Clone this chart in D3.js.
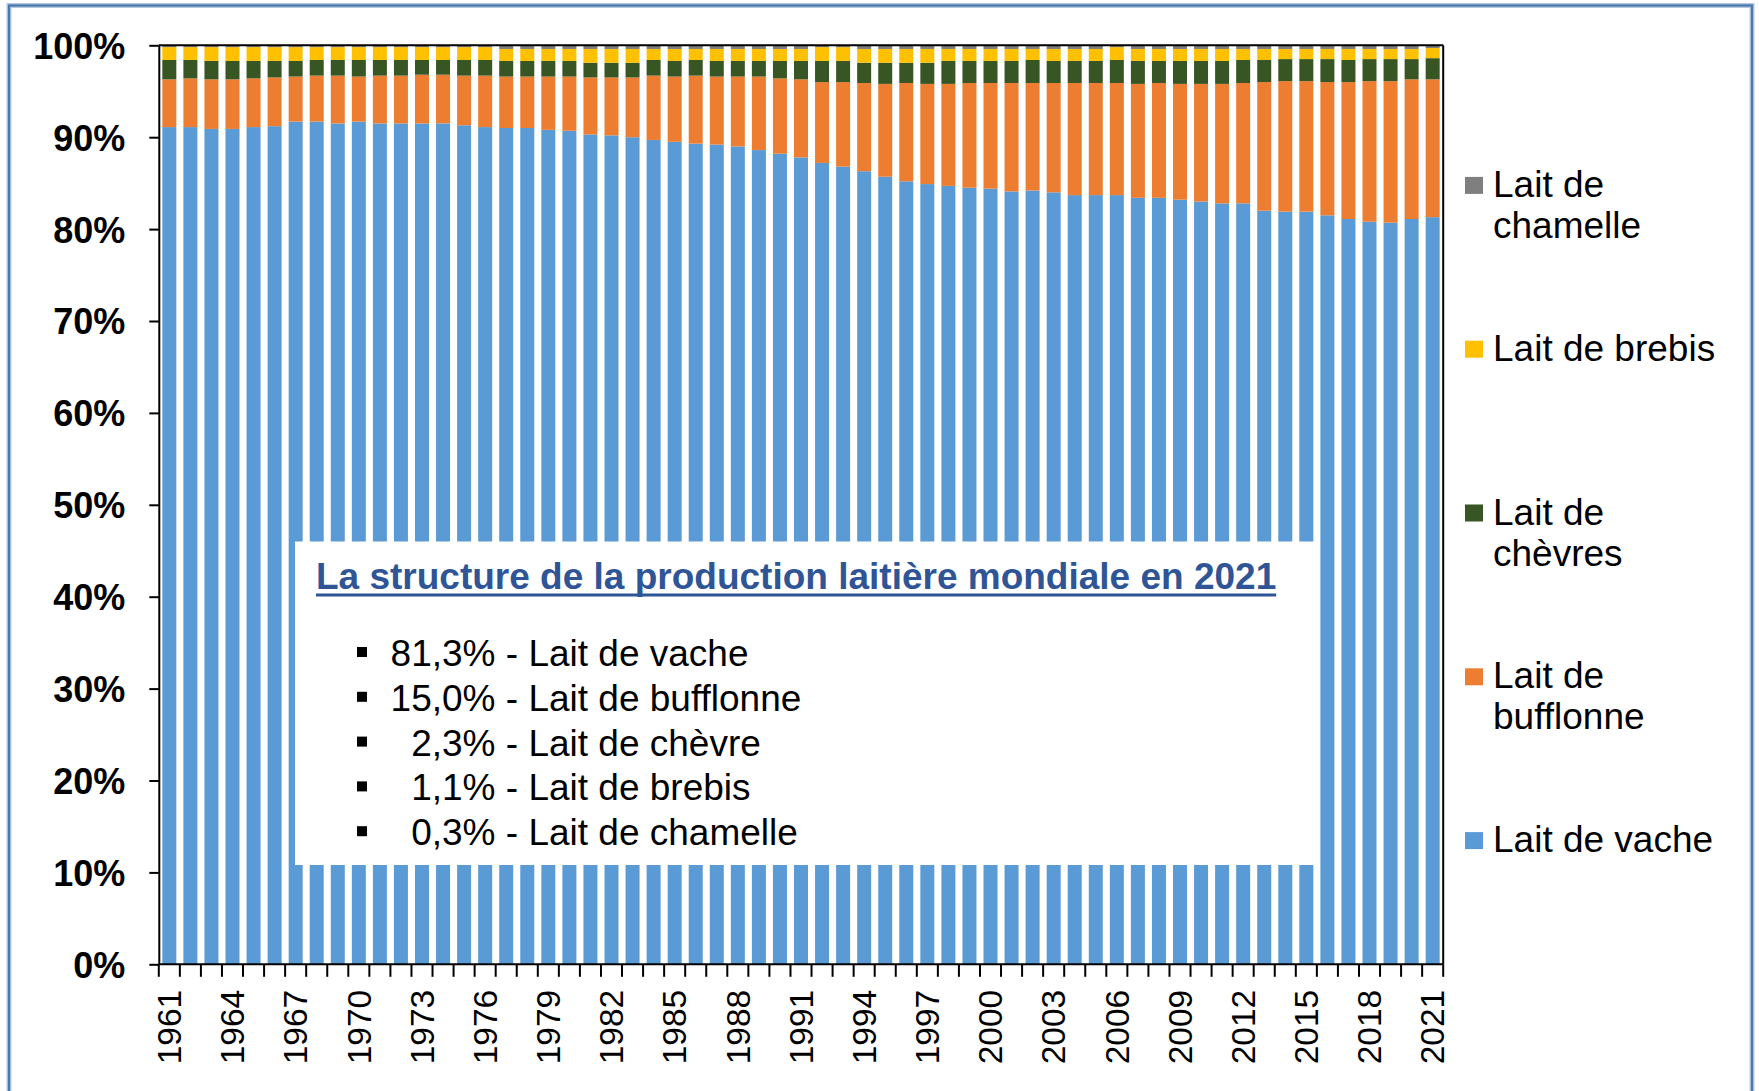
<!DOCTYPE html>
<html>
<head>
<meta charset="utf-8">
<script src="https://cdn.jsdelivr.net/npm/d3@7"></script>
<style>
  body { margin: 0; background: #fff; }
  text { font-family: "Liberation Sans", Arial, sans-serif; }
</style>
</head>
<body>
<div id="chart"></div>
<script>
// Data (percent of world milk production)
var years = d3.range(1961, 2022);

var vache = [91.1, 91.1, 90.9, 90.9, 91.1, 91.2, 91.7, 91.7, 91.5, 91.7,
  91.5, 91.5, 91.5, 91.5, 91.3, 91.1, 91.0, 91.0, 90.8, 90.7,
  90.3, 90.2, 90.0, 89.7, 89.5, 89.3, 89.2, 89.0, 88.6, 88.2,
  87.8, 87.2, 86.8, 86.3, 85.7, 85.2, 84.9, 84.7, 84.5, 84.4,
  84.1, 84.2, 84.0, 83.7, 83.7, 83.7, 83.4, 83.4, 83.2, 83.0,
  82.8, 82.8, 82.0, 81.9, 81.9, 81.5, 81.1, 80.8, 80.7, 81.1, 81.3];
var bufflonne = [5.2, 5.3, 5.4, 5.4, 5.3, 5.3, 4.9, 5.0, 5.2, 4.9,
  5.2, 5.2, 5.3, 5.3, 5.4, 5.6, 5.6, 5.6, 5.8, 5.9,
  6.2, 6.3, 6.5, 7.0, 7.1, 7.4, 7.4, 7.6, 8.0, 8.2,
  8.5, 8.8, 9.2, 9.6, 10.1, 10.7, 10.9, 11.1, 11.4, 11.5,
  11.8, 11.7, 11.9, 12.2, 12.2, 12.2, 12.4, 12.5, 12.6, 12.8,
  13.0, 13.1, 14.0, 14.2, 14.2, 14.5, 14.9, 15.3, 15.4, 15.2, 15.0];
var chevre = [2.1, 2.0, 2.0, 2.0, 1.9, 1.8, 1.7, 1.7, 1.7, 1.8,
  1.7, 1.7, 1.6, 1.6, 1.7, 1.7, 1.7, 1.7, 1.7, 1.7,
  1.6, 1.6, 1.6, 1.7, 1.7, 1.7, 1.7, 1.7, 1.7, 1.9,
  2.0, 2.3, 2.3, 2.2, 2.3, 2.2, 2.3, 2.5, 2.4, 2.4,
  2.4, 2.5, 2.4, 2.4, 2.4, 2.5, 2.5, 2.4, 2.5, 2.5,
  2.5, 2.5, 2.4, 2.4, 2.4, 2.5, 2.4, 2.4, 2.4, 2.2, 2.3];
var brebis = [1.4, 1.4, 1.5, 1.5, 1.5, 1.5, 1.5, 1.4, 1.4, 1.4,
  1.4, 1.4, 1.4, 1.4, 1.4, 1.4, 1.3, 1.3, 1.3, 1.3,
  1.5, 1.5, 1.5, 1.2, 1.3, 1.2, 1.3, 1.3, 1.3, 1.3,
  1.3, 1.5, 1.5, 1.5, 1.5, 1.5, 1.5, 1.3, 1.3, 1.3,
  1.3, 1.2, 1.3, 1.3, 1.3, 1.4, 1.3, 1.3, 1.3, 1.3,
  1.3, 1.2, 1.2, 1.1, 1.1, 1.1, 1.2, 1.1, 1.1, 1.1, 1.1];
var chamelle = [0.2, 0.2, 0.2, 0.2, 0.2, 0.2, 0.2, 0.2, 0.2, 0.2,
  0.2, 0.2, 0.2, 0.2, 0.2, 0.2, 0.4, 0.4, 0.4, 0.4,
  0.4, 0.4, 0.4, 0.4, 0.4, 0.4, 0.4, 0.4, 0.4, 0.4,
  0.4, 0.2, 0.2, 0.4, 0.4, 0.4, 0.4, 0.4, 0.4, 0.4,
  0.4, 0.4, 0.4, 0.4, 0.4, 0.2, 0.4, 0.4, 0.4, 0.4,
  0.4, 0.4, 0.4, 0.4, 0.4, 0.4, 0.4, 0.4, 0.4, 0.4, 0.3];

var seriesKeys = ["vache", "bufflonne", "chevre", "brebis", "chamelle"];
var seriesColors = ["#5B9BD5", "#ED7D31", "#375623", "#FFC000", "#7F7F7F"];
var yTicks = [0, 10, 20, 30, 40, 50, 60, 70, 80, 90, 100];

// legend, top to bottom
var legendKeys = ["chamelle", "brebis", "chevre", "bufflonne", "vache"];
var legendLabels = [["Lait de", "chamelle"], ["Lait de brebis"], ["Lait de", "chèvres"],
  ["Lait de", "bufflonne"], ["Lait de vache"]];

// text box
var boxTitle = "La structure de la production laitière mondiale en 2021";
var boxShares = ["81,3%", "15,0%", "2,3%", "1,1%", "0,3%"];
var boxNames = ["Lait de vache", "Lait de bufflonne", "Lait de chèvre", "Lait de brebis", "Lait de chamelle"];

var svgWidth = 1759;
var svgHeight = 1091;
var margin = { top: 45.3, left: 158.8 };
var width = 1284.4;
var height = 919;

var svg = d3.select("#chart")
  .append("svg")
  .attr("width", svgWidth)
  .attr("height", svgHeight);

// outer frame (bottom edge runs off the picture)
svg.append("rect")
  .attr("x", 9).attr("y", 5.5)
  .attr("width", 1743).attr("height", 1110)
  .attr("fill", "none")
  .attr("stroke", "#B4C8E0")
  .attr("stroke-width", 5);
svg.append("rect")
  .attr("x", 9).attr("y", 5.5)
  .attr("width", 1743).attr("height", 1110)
  .attr("fill", "none")
  .attr("stroke", "#4A77AC")
  .attr("stroke-width", 2.2);

var chartGroup = svg.append("g")
  .attr("transform", `translate(${margin.left}, ${margin.top})`);

// rows for the stack
var rows = years.map(function(yr, i) {
  return { year: yr, vache: vache[i], bufflonne: bufflonne[i], chevre: chevre[i],
    brebis: brebis[i], chamelle: chamelle[i] };
});
var stacked = d3.stack().keys(seriesKeys)(rows);

// scales
var xBandScale = d3.scaleBand()
  .domain(years)
  .range([0, width])
  .paddingInner(0.335)
  .paddingOuter(0.1675);

var yLinearScale = d3.scaleLinear()
  .domain([0, 100])
  .range([height, 0]);

var color = d3.scaleOrdinal().domain(seriesKeys).range(seriesColors);

// bars
chartGroup.selectAll("g.layer")
  .data(stacked)
  .enter()
  .append("g")
  .attr("class", "layer")
  .attr("fill", d => color(d.key))
  .selectAll("rect")
  .data(d => d)
  .enter()
  .append("rect")
  .attr("x", d => xBandScale(d.data.year))
  .attr("width", xBandScale.bandwidth())
  .attr("y", d => yLinearScale(d[1]))
  .attr("height", d => yLinearScale(d[0]) - yLinearScale(d[1]));

// plot border (top and right)
chartGroup.append("line")
  .attr("x1", 0).attr("x2", width)
  .attr("y1", yLinearScale(100)).attr("y2", yLinearScale(100))
  .attr("stroke", "#000").attr("stroke-width", 2);
chartGroup.append("line")
  .attr("x1", width).attr("x2", width)
  .attr("y1", 0).attr("y2", height)
  .attr("stroke", "#000").attr("stroke-width", 2);

// y axis
var leftAxis = d3.axisLeft(yLinearScale)
  .tickValues(yTicks)
  .tickSize(9.5)
  .tickSizeOuter(0)
  .tickPadding(24)
  .tickFormat(d => d + "%");

var yAxis = chartGroup.append("g").call(leftAxis);
yAxis.select(".domain").attr("stroke", "#000").attr("stroke-width", 2);
yAxis.selectAll(".tick line").attr("stroke", "#000").attr("stroke-width", 2);
yAxis.selectAll(".tick text")
  .attr("fill", "#000")
  .style("font-family", "'Liberation Sans', Arial, sans-serif")
  .style("font-size", "36px")
  .style("font-weight", "bold")
  .attr("dy", "0.36em");

// x axis: line, boundary ticks, every third year labelled
chartGroup.append("line")
  .attr("x1", 0).attr("x2", width)
  .attr("y1", height).attr("y2", height)
  .attr("stroke", "#000").attr("stroke-width", 2);

var halfGap = (xBandScale.step() - xBandScale.bandwidth()) / 2;
var boundaries = years.map(d => xBandScale(d) - halfGap).concat([width]);
chartGroup.selectAll("line.xtick")
  .data(boundaries)
  .enter()
  .append("line")
  .attr("class", "xtick")
  .attr("x1", d => d).attr("x2", d => d)
  .attr("y1", height).attr("y2", height + 12.5)
  .attr("stroke", "#000").attr("stroke-width", 2);

var labelYears = years.filter((d, i) => i % 3 === 0);
chartGroup.selectAll("text.xlabel")
  .data(labelYears)
  .enter()
  .append("text")
  .attr("class", "xlabel")
  .attr("transform", d => `translate(${xBandScale(d) + xBandScale.bandwidth() / 2}, ${height + 25.5}) rotate(-90)`)
  .attr("text-anchor", "end")
  .attr("dy", "0.35em")
  .style("font-size", "33.5px")
  .attr("fill", "#000")
  .text(d => d);

// text box over the bars
var boxGroup = svg.append("g");
boxGroup.append("rect")
  .attr("x", 295).attr("y", 541.5)
  .attr("width", 1023).attr("height", 323.5)
  .attr("fill", "#fff");

var titleText = boxGroup.append("text")
  .attr("x", 316).attr("y", 589)
  .style("font-size", "37px")
  .style("font-weight", "bold")
  .attr("fill", "#2F5597")
  .text(boxTitle);
var titleLen = titleText.node().getComputedTextLength();
boxGroup.append("line")
  .attr("x1", 316).attr("x2", 316 + titleLen)
  .attr("y1", 595).attr("y2", 595)
  .attr("stroke", "#2F5597").attr("stroke-width", 3);

var lineGap = 44.8;
boxShares.forEach(function(share, i) {
  var base = 666 + i * lineGap;
  boxGroup.append("rect")
    .attr("x", 357).attr("y", base - 19)
    .attr("width", 10).attr("height", 10)
    .attr("fill", "#000");
  boxGroup.append("text")
    .attr("x", 495.5).attr("y", base)
    .attr("text-anchor", "end")
    .style("font-size", "37px")
    .attr("fill", "#000")
    .text(share);
  boxGroup.append("text")
    .attr("x", 505.8).attr("y", base)
    .style("font-size", "37px")
    .attr("fill", "#000")
    .text("- " + boxNames[i]);
});

// legend
var legend = svg.append("g");
legendKeys.forEach(function(key, i) {
  var base = 196.9 + i * 163.8;
  legend.append("rect")
    .attr("x", 1465).attr("y", base - 20)
    .attr("width", 18).attr("height", 17)
    .attr("fill", color(key));
  legendLabels[i].forEach(function(line, j) {
    legend.append("text")
      .attr("x", 1493).attr("y", base + j * 41)
      .style("font-size", "37px")
      .attr("fill", "#000")
      .text(line);
  });
});
</script>
</body>
</html>
